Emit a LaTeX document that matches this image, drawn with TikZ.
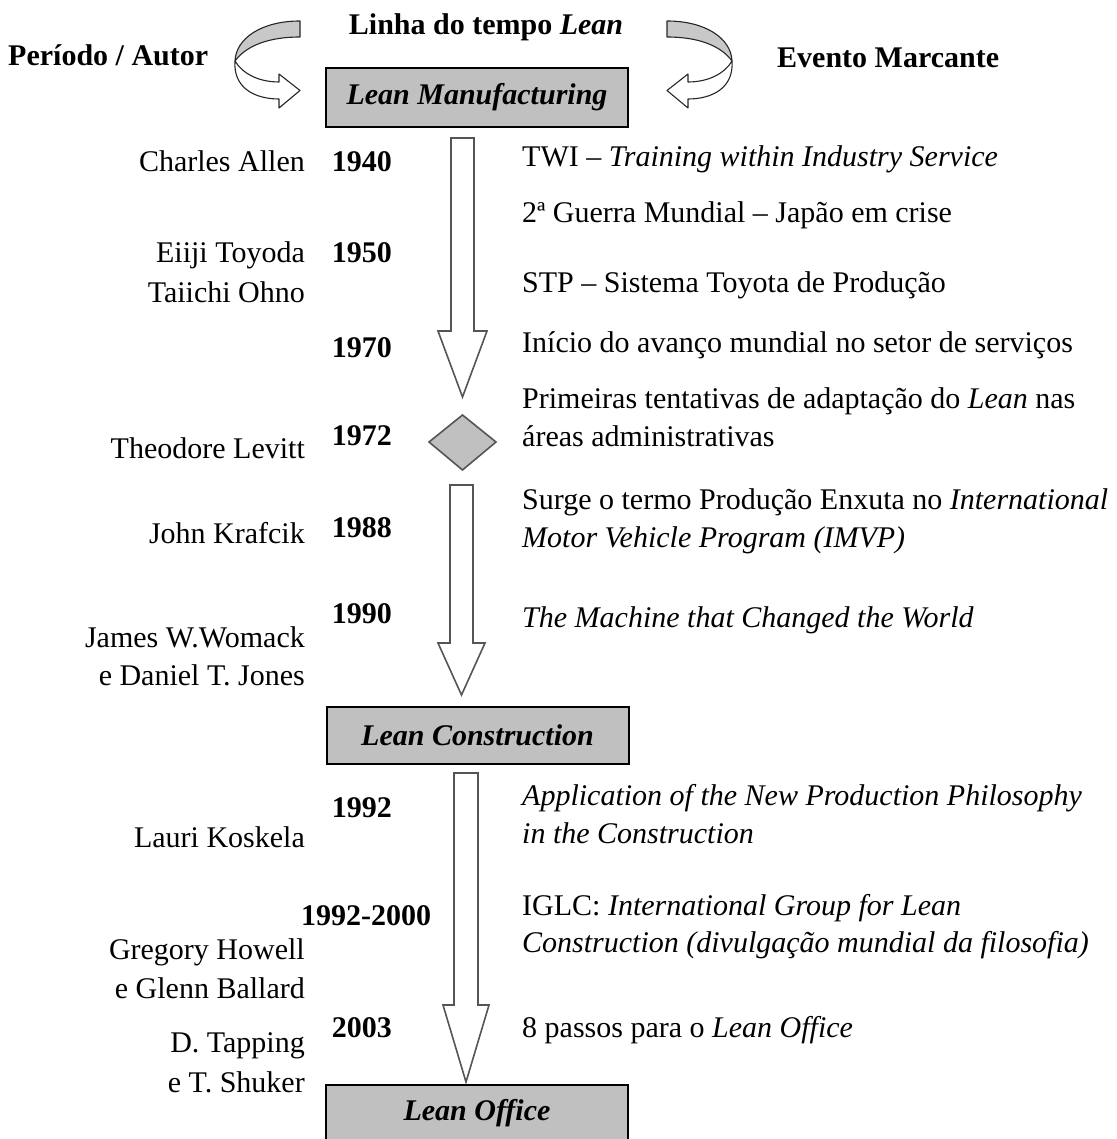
\documentclass[tikz,border=0pt]{standalone}
\usepackage{fontspec}
\setmainfont{Liberation Serif}
\begin{document}
\definecolor{boxgray}{HTML}{C0C0C0}
\definecolor{arrowgray}{HTML}{555555}
\definecolor{curlgray}{HTML}{C8C8C8}
\tikzset{
  lbltxt/.style={inner sep=0pt, font=\fontsize{30}{36}\selectfont},
  authorlbl/.style={lbltxt, anchor=base east},
  yearlbl/.style={lbltxt, anchor=base east, font=\fontsize{30}{36}\selectfont\bfseries},
  eventlbl/.style={lbltxt, anchor=base west},
  headlbl/.style={lbltxt, font=\fontsize{30}{36}\selectfont\bfseries},
  phasebox/.style={draw=black, line width=2pt, fill=boxgray, minimum width=302pt,
    minimum height=57pt, inner sep=0pt,
    font=\fontsize{30}{36}\selectfont\bfseries\itshape},
  blockarrow/.style={draw=arrowgray, line width=1.6pt, fill=white, line join=miter},
  curlarrow/.style={draw=black!85, line width=1.1pt, line join=round}}
% block arrow pointing down: x, top, head start, tip, half shaft, half head
\newcommand{\downblock}[6]{%
  \draw[blockarrow] ({#1-#5},#2) -- ({#1+#5},#2) -- ({#1+#5},#3) -- ({#1+#6},#3)
    -- (#1,#4) -- ({#1-#6},#3) -- ({#1-#5},#3) -- cycle;}
\begin{tikzpicture}[x=1pt,y=-1pt]
\useasboundingbox (0,0) rectangle (1116,1139);

% headings
\node[headlbl, anchor=base] (title) at (486,35) {Linha do tempo \textit{Lean}};
\node[headlbl, anchor=base west] (hleft) at (8,66) {Período / Autor};
\node[headlbl, anchor=base west] (hright) at (777,68) {Evento Marcante};

% curved arrows beside the first phase box
\begin{scope}
  \draw[curlarrow, fill=curlgray] (300,21) .. controls (262,21) and (236,38) .. (235,61)
    .. controls (246,46) and (268,37) .. (300,37) -- cycle;
  \draw[curlarrow, fill=white] (235,61) .. controls (233,88) and (255,99) .. (279,99)
    -- (279,108) -- (300,90.5) -- (279,74) -- (279,82)
    .. controls (258,82) and (242,73) .. (235,61) -- cycle;
\end{scope}
\begin{scope}[xshift=967pt, xscale=-1]
  \draw[curlarrow, fill=curlgray] (300,21) .. controls (262,21) and (236,38) .. (235,61)
    .. controls (246,46) and (268,37) .. (300,37) -- cycle;
  \draw[curlarrow, fill=white] (235,61) .. controls (233,88) and (255,99) .. (279,99)
    -- (279,108) -- (300,90.5) -- (279,74) -- (279,82)
    .. controls (258,82) and (242,73) .. (235,61) -- cycle;
\end{scope}

% phase boxes
\node[phasebox, minimum height=59pt] (manuf) at (477,97.5) {Lean Manufacturing};
\node[phasebox] (constr) at (477.5,735) {Lean Construction};
\node[phasebox] (office) at (477,1113.5) {Lean Office};

% arrows and decision diamond along the timeline
\downblock{462.5}{138}{331}{397}{11.5}{24.5}
\draw[draw=arrowgray, line width=1.6pt, fill=boxgray]
  (429,442) coordinate (dl) -- (462.5,415) coordinate (dt) -- (496,442) coordinate (dr)
  -- (462.5,470) coordinate (db) -- cycle;
\downblock{461.5}{485}{643}{695}{11.5}{23.5}
\downblock{466}{773}{1005}{1082}{12}{23}

% authors
\node[authorlbl] (n1) at (305,172) {Charles Allen};
\node[authorlbl] (n2) at (305,263) {Eiiji Toyoda};
\node[authorlbl] (n3) at (305,302) {Taiichi Ohno};
\node[authorlbl] (n4) at (305,458) {Theodore Levitt};
\node[authorlbl] (n5) at (305,543) {John Krafcik};
\node[authorlbl] (n6) at (305,647) {James W.Womack};
\node[authorlbl] (n7) at (305,685) {e Daniel T. Jones};
\node[authorlbl] (n8) at (305,847) {Lauri Koskela};
\node[authorlbl] (n9) at (305,959) {Gregory Howell};
\node[authorlbl] (n10) at (305,998) {e Glenn Ballard};
\node[authorlbl] (n11) at (305,1052) {D. Tapping};
\node[authorlbl] (n12) at (305,1092) {e T. Shuker};

% years
\node[yearlbl] (y1) at (392,172) {1940};
\node[yearlbl] (y2) at (392,263) {1950};
\node[yearlbl] (y3) at (392,357) {1970};
\node[yearlbl] (y4) at (392,445) {1972};
\node[yearlbl] (y5) at (392,537) {1988};
\node[yearlbl] (y6) at (392,623) {1990};
\node[yearlbl] (y7) at (392,817) {1992};
\node[yearlbl, anchor=base west] (y8) at (301,925) {1992-2000};
\node[yearlbl] (y9) at (392,1037) {2003};

% events
\node[eventlbl] (e1) at (522,167) {TWI – \textit{Training within Industry Service}};
\node[eventlbl] (e2) at (522,223) {2ª Guerra Mundial – Japão em crise};
\node[eventlbl] (e3) at (522,293) {STP – Sistema Toyota de Produção};
\node[eventlbl] (e4) at (522,352) {Início do avanço mundial no setor de serviços};
\node[eventlbl] (e5a) at (522,408) {Primeiras tentativas de adaptação do \textit{Lean} nas};
\node[eventlbl] (e5b) at (522,446) {áreas administrativas};
\node[eventlbl] (e6a) at (522,509) {Surge o termo Produção Enxuta no \textit{International}};
\node[eventlbl] (e6b) at (522,547) {\textit{Motor Vehicle Program (IMVP)}};
\node[eventlbl] (e7) at (522,627) {\textit{The Machine that Changed the World}};
\node[eventlbl] (e8a) at (522,805) {\textit{Application of the New Production Philosophy}};
\node[eventlbl] (e8b) at (522,843) {\textit{in the Construction}};
\node[eventlbl] (e9a) at (522,915) {IGLC: \textit{International Group for Lean}};
\node[eventlbl] (e9b) at (522,952) {\textit{Construction (divulgação mundial da filosofia)}};
\node[eventlbl] (e10) at (522,1037) {8 passos para o \textit{Lean Office}};
\end{tikzpicture}
\end{document}
